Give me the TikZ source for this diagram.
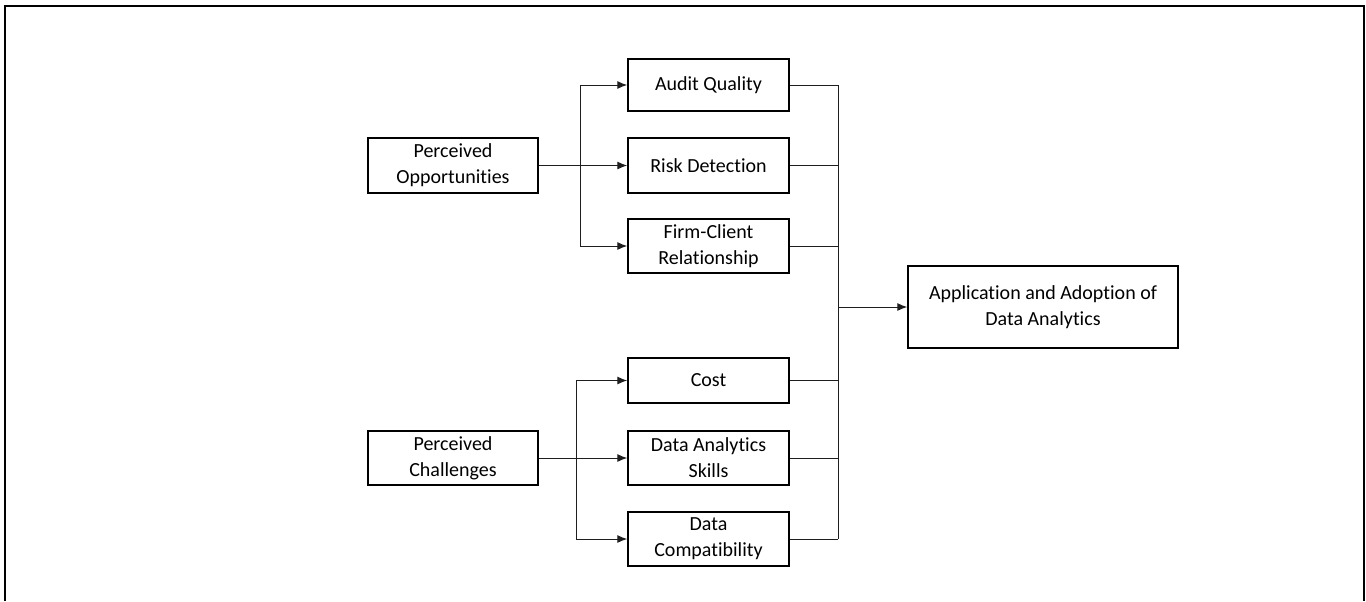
\documentclass[tikz,border=0pt]{standalone}
\usepackage{fontspec}
\setmainfont[Ligatures=NoCommon]{Carlito}
\usetikzlibrary{arrows.meta}

\tikzset{
	factor/.style={draw, line width=1.1pt, inner sep=0.75pt, align=center, minimum width=120.75pt, font=\fontsize{15}{19.5}\selectfont},
	link/.style={line width=0.75pt, color={rgb, 255:red, 30; green, 30; blue, 30 }},
	arr/.style={link, -{Latex[length=7.5pt, width=6pt]}}
}

\begin{document}
\begin{tikzpicture}[x=0.75pt,y=0.75pt,yscale=-1,xscale=1]
	\useasboundingbox (0,0) rectangle (1366,601);
	
	%Frame
	\draw [line width=1.9pt]  (5,601) -- (5,6) -- (1364,6) -- (1364,601) ;
	
	%Shape: Rectangle (sources)
	\node [factor, minimum width=127.5pt, minimum height=41.25pt] (opp) at (453,165.5) {Perceived\\Opportunities};
	\node [factor, minimum width=127.5pt, minimum height=40.5pt] (chal) at (453,458) {Perceived\\Challenges};
	
	%Shape: Rectangle (opportunities)
	\node [factor, minimum height=39pt] (aq) at (708.5,85) {Audit Quality};
	\node [factor, minimum height=41.25pt] (rd) at (708.5,165.5) {Risk Detection};
	\node [factor, minimum height=40.5pt] (fc) at (708.5,246) {Firm-Client\\Relationship};
	
	%Shape: Rectangle (challenges)
	\node [factor, minimum height=33.75pt] (cost) at (708.5,380.5) {Cost};
	\node [factor, minimum height=40.5pt] (das) at (708.5,458) {Data Analytics\\Skills};
	\node [factor, minimum height=40.5pt] (dc) at (708.5,539) {Data\\Compatibility};
	
	%Shape: Rectangle (outcome)
	\node [factor, minimum width=202.5pt, minimum height=61.5pt] (adopt) at (1043,307) {Application and Adoption of\\Data Analytics};
	
	%Branch points
	\coordinate (obr) at (580,165.5);
	\coordinate (cbr) at (576,458);
	\coordinate (bus) at (838,307);
	
	%Straight Lines (opportunities)
	\draw [arr]  (opp) -- (rd) ;
	\draw [link]  (obr |- aq) -- (obr |- fc) ;
	\draw [arr]  (obr |- aq) -- (aq) ;
	\draw [arr]  (obr |- fc) -- (fc) ;
	
	%Straight Lines (challenges)
	\draw [arr]  (chal) -- (das) ;
	\draw [link]  (cbr |- cost) -- (cbr |- dc) ;
	\draw [arr]  (cbr |- cost) -- (cost) ;
	\draw [arr]  (cbr |- dc) -- (dc) ;
	
	%Straight Lines (to outcome)
	\foreach \f in {aq,rd,fc,cost,das,dc}
		\draw [link]  (\f.east) -- (\f.east -| bus) ;
	\draw [link]  (aq.east -| bus) -- (dc.east -| bus) ;
	\draw [arr]  (bus) -- (adopt) ;
	
\end{tikzpicture}
\end{document}
